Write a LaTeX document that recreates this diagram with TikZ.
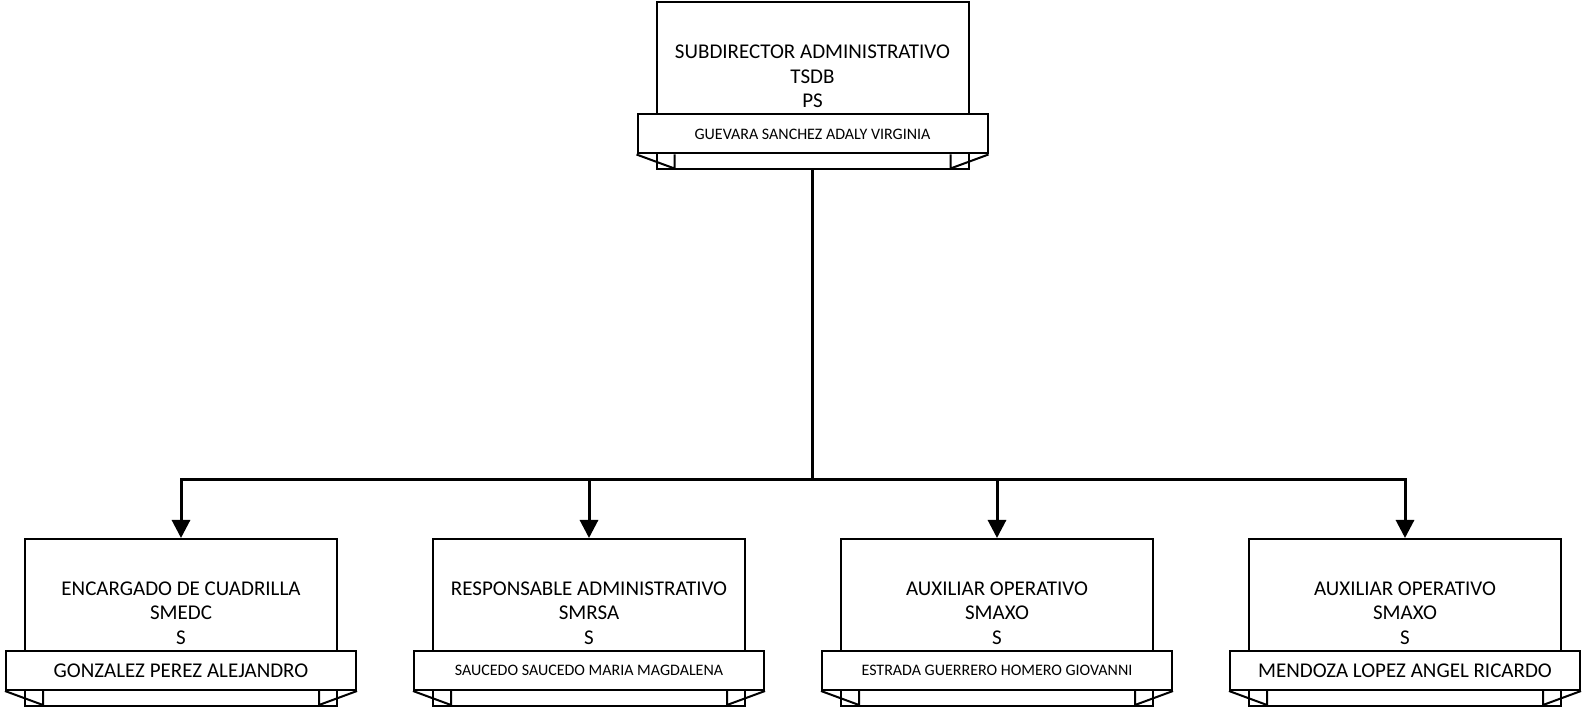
\documentclass[tikz,border=0pt]{standalone}
\usepackage{fontspec}
\setmainfont{Carlito}
\usetikzlibrary{arrows.meta}

\begin{document}
\begin{tikzpicture}[
	x=0.5pt, y=-0.5pt,
	post/.style = {draw, line width=1pt, minimum width=156pt, minimum height=83.5pt, inner sep=0pt},
	title/.style = {align=center, inner sep=0pt, font=\fontsize{10.5}{12.25}\selectfont},
	ribbon/.style = {draw, fill=white, line width=1pt, minimum width=175pt, minimum height=19.5pt, inner sep=0pt, font=\fontsize{10.5}{12}\selectfont},
	small/.style = {font=\fontsize{8}{9.6}\selectfont},
	fold/.style = {line width=1pt, line join=miter},
	link/.style = {line width=1.5pt},
	arrow/.style = {link, -{Triangle[width=9pt,length=9pt]}}
]
\useasboundingbox (0,0) rectangle (1585,710);

% subdirector
\node[post] (sub) at (812.5,86) {};
\node[title] (sub-title) at ([yshift=4.75pt]sub.center) {SUBDIRECTOR ADMINISTRATIVO\\TSDB\\PS};
\node[ribbon, small, anchor=south] (sub-name) at ([yshift=8pt]sub.south) {GUEVARA SANCHEZ ADALY VIRGINIA};
\draw[fold] (sub-name.south west) -- ++(38,14) -- ++(0,-14);
\draw[fold] (sub-name.south east) -- ++(-38,14) -- ++(0,-14);

% staff
\node[post] (enc) at (181,622.5) {};
\node[title] (enc-title) at ([yshift=4.75pt]enc.center) {ENCARGADO DE CUADRILLA\\SMEDC\\S};
\node[ribbon, anchor=south] (enc-name) at ([yshift=8pt]enc.south) {GONZALEZ PEREZ ALEJANDRO};
\draw[fold] (enc-name.south west) -- ++(38,14) -- ++(0,-14);
\draw[fold] (enc-name.south east) -- ++(-38,14) -- ++(0,-14);

\node[post] (resp) at (589,622.5) {};
\node[title] (resp-title) at ([yshift=4.75pt]resp.center) {RESPONSABLE ADMINISTRATIVO\\SMRSA\\S};
\node[ribbon, small, anchor=south] (resp-name) at ([yshift=8pt]resp.south) {SAUCEDO SAUCEDO MARIA MAGDALENA};
\draw[fold] (resp-name.south west) -- ++(38,14) -- ++(0,-14);
\draw[fold] (resp-name.south east) -- ++(-38,14) -- ++(0,-14);

\node[post] (aux1) at (997,622.5) {};
\node[title] (aux1-title) at ([yshift=4.75pt]aux1.center) {AUXILIAR OPERATIVO\\SMAXO\\S};
\node[ribbon, small, anchor=south] (aux1-name) at ([yshift=8pt]aux1.south) {ESTRADA GUERRERO HOMERO GIOVANNI};
\draw[fold] (aux1-name.south west) -- ++(38,14) -- ++(0,-14);
\draw[fold] (aux1-name.south east) -- ++(-38,14) -- ++(0,-14);

\node[post] (aux2) at (1405,622.5) {};
\node[title] (aux2-title) at ([yshift=4.75pt]aux2.center) {AUXILIAR OPERATIVO\\SMAXO\\S};
\node[ribbon, anchor=south] (aux2-name) at ([yshift=8pt]aux2.south) {MENDOZA LOPEZ ANGEL RICARDO};
\draw[fold] (aux2-name.south west) -- ++(38,14) -- ++(0,-14);
\draw[fold] (aux2-name.south east) -- ++(-38,14) -- ++(0,-14);

% connectors
\coordinate (bus) at (812.5,480);
\draw[link] (sub.south) -- (bus);
\draw[arrow] (bus) -| (enc.north);
\draw[arrow] (bus) -| (resp.north);
\draw[arrow] (bus) -| (aux1.north);
\draw[arrow] (bus) -| (aux2.north);

\end{tikzpicture}
\end{document}
